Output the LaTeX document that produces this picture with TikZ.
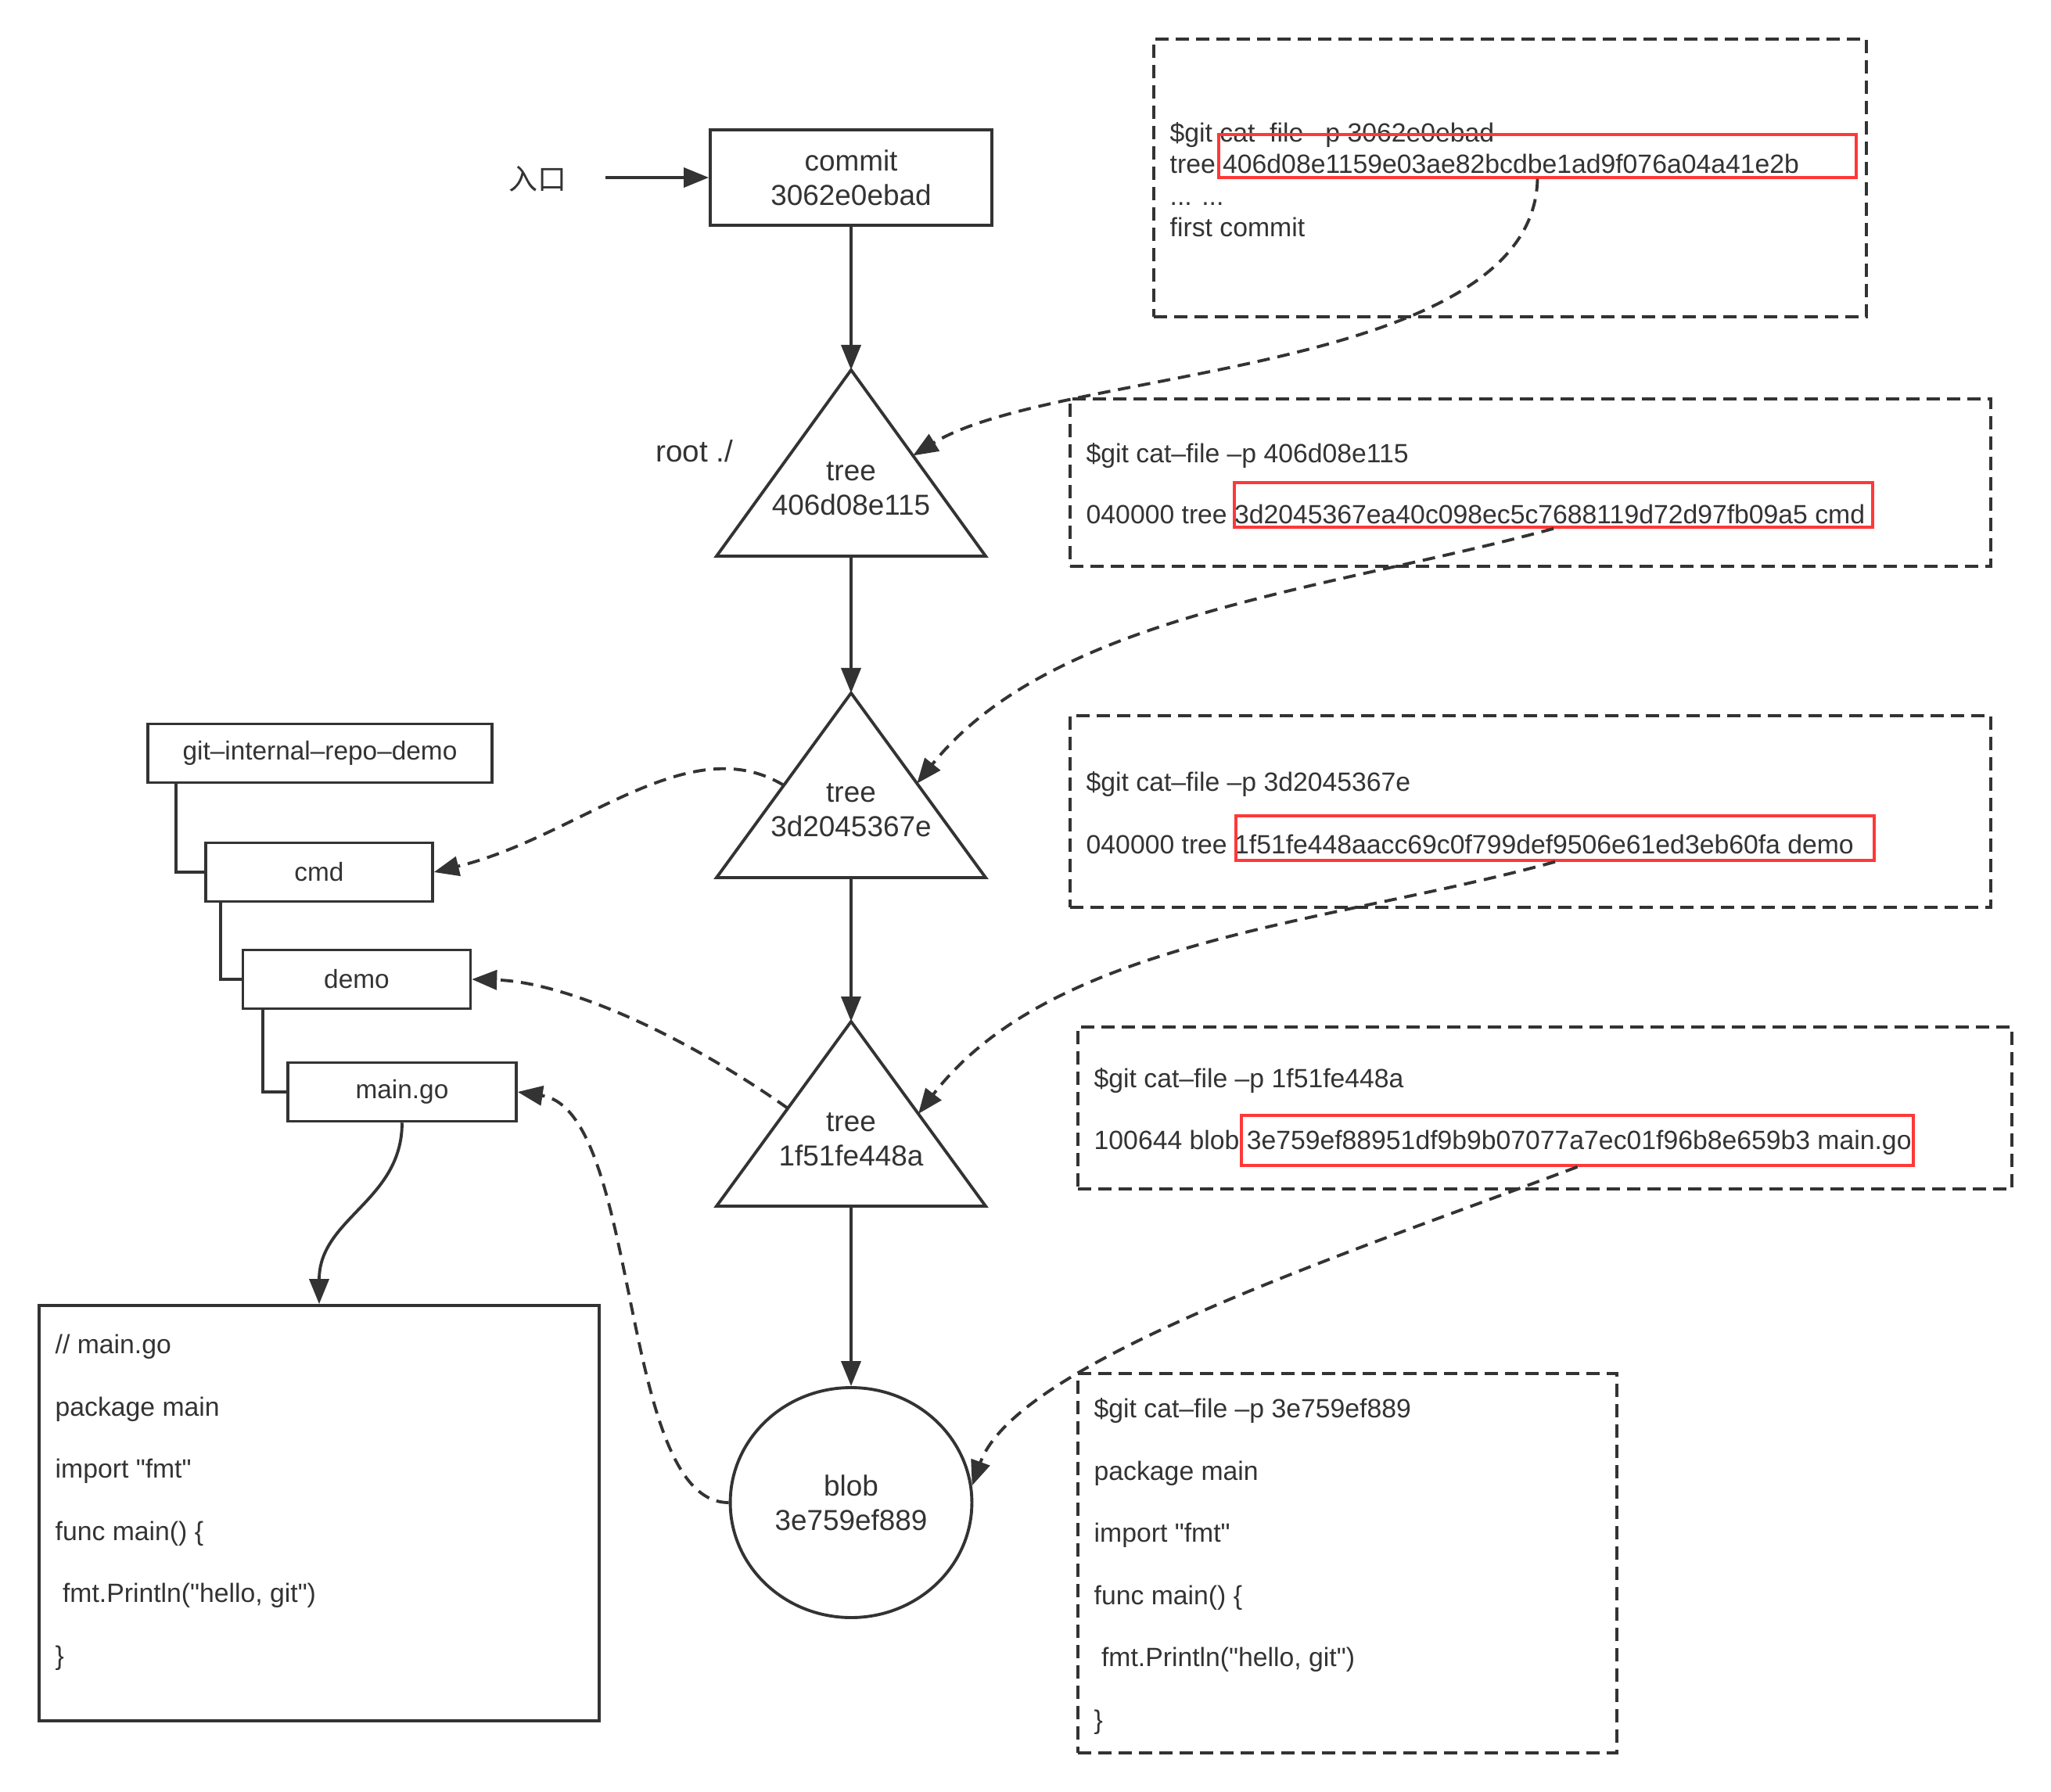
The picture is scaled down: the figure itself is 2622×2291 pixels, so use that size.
\documentclass[tikz,border=0pt]{standalone}
\usepackage{fontspec}
\setmainfont{Liberation Sans}[Ligatures=TeXOff]
\newfontfamily\cjk{Noto Sans CJK SC}
\usetikzlibrary{arrows.meta,calc,shapes.geometric}

\definecolor{ink}{HTML}{333333}
\definecolor{hlred}{HTML}{FF3838}

\begin{document}
\begin{tikzpicture}[x=0.1mm, y=-0.1mm,
    objline/.style={draw=ink, line width=1.1pt},
    objtext/.style={text=ink, align=center, font=\fontsize{10.5}{12.6}\selectfont},
    obj/.style={objline, objtext},
    link/.style={ink, line width=1.1pt, -{Triangle[length=3.2mm, width=2.5mm]}},
    ref/.style={link, dash pattern=on 1.6mm off 1mm},
    dirbox/.style={draw=ink, line width=1pt, text=ink, minimum height=7.5mm,
      font=\fontsize{9.5}{11}\selectfont},
    catbox/.style={draw=ink, line width=1.1pt, dash pattern=on 1.7mm off 0.9mm},
    hl/.style={draw=hlred, line width=1pt},
    txt/.style={anchor=west, inner sep=0pt, text=ink, text height=0.75em,
      text depth=0.2em, font=\fontsize{9.6}{11}\selectfont}]

  \path[fill=white, use as bounding box] (0,0) rectangle (2622,2291);

  % entry and commit
  \node[text=ink, font=\cjk\fontsize{10.5}{12}\selectfont] (entry) at (687,229) {入口};
  \coordinate (entry-tail) at (774,227);
  \node[obj, minimum width=36mm, minimum height=12.2mm] (commit) at (1088,227) {commit\\3062e0ebad};
  \draw[link] (entry-tail) -- (commit);

  % tree objects
  \draw[objline] (1088,473) coordinate (t1top) -- (1260,711) coordinate (t1r)
    -- (916,711) coordinate (t1l) -- cycle;
  \coordinate (t1bot) at (1088,711);
  \node[objtext] (t1) at (1088,625) {tree\\406d08e115};
  \node[text=ink, font=\fontsize{11}{13}\selectfont] (root) at (888,577) {root ./};

  \draw[objline] (1088,886) coordinate (t2top) -- (1260,1122) coordinate (t2r)
    -- (916,1122) coordinate (t2l) -- cycle;
  \coordinate (t2bot) at (1088,1122);
  \node[objtext] (t2) at (1088,1036) {tree\\3d2045367e};

  \draw[objline] (1088,1306) coordinate (t3top) -- (1260,1542) coordinate (t3r)
    -- (916,1542) coordinate (t3l) -- cycle;
  \coordinate (t3bot) at (1088,1542);
  \node[objtext] (t3) at (1088,1457) {tree\\1f51fe448a};

  % blob object
  \node[obj, ellipse, minimum width=30.5mm, minimum height=29.4mm] (blob) at (1088,1921) {blob\\3e759ef889};

  \draw[link] (commit) -- (t1top);
  \draw[link] (t1bot) -- (t2top);
  \draw[link] (t2bot) -- (t3top);
  \draw[link] (t3bot) -- (blob);

  % working directory
  \node[dirbox, minimum width=44mm] (repo) at (409,963) {git–internal–repo–demo};
  \node[dirbox, minimum width=29mm] (cmd) at (408,1115) {cmd};
  \node[dirbox, minimum width=29.1mm] (demo) at (456,1252) {demo};
  \node[dirbox, minimum width=29.2mm] (mainfile) at (514,1396) {main.go};
  \draw[ink, line width=1pt] ([xshift=3.8mm]repo.south west) |- (cmd.west);
  \draw[ink, line width=1pt] ([xshift=2.1mm]cmd.south west) |- (demo.west);
  \draw[ink, line width=1pt] ([xshift=2.7mm]demo.south west) |- (mainfile.west);

  % source of main.go
  \node[draw=ink, line width=1.1pt, minimum width=71.6mm, minimum height=53.1mm] (code) at (408,1934.5) {};
  \foreach \src [count=\i from 0] in {{// main.go}, {package main}, {import "fmt"},
      {func main() \{}, {\ fmt.Println("hello, git")}, {\}}}
    \node[txt] (code-\i) at (70,1721+79.5*\i) {\src};
  \draw[link] (mainfile.south) .. controls +(0,100) and +(0,-110) .. (code.north);

  % cat-file output
  \node[catbox, minimum width=91.1mm, minimum height=35.5mm] (cat1) at (1930.5,227.5) {};
  \node[txt] (c1-0) at (1495,172) {\$git cat–file –p 3062e0ebad};
  \node[txt] (c1-1) at (1495,212) {tree 406d08e1159e03ae82bcdbe1ad9f076a04a41e2b};
  \node[txt] (c1-2) at (1495,253) {... ...};
  \node[txt] (c1-3) at (1495,293) {first commit};

  \node[catbox, minimum width=117.7mm, minimum height=21.4mm] (cat2) at (1956.5,617) {};
  \node[txt] (c2-0) at (1388,582) {\$git cat–file –p 406d08e115};
  \node[txt] (c2-1) at (1388,660) {040000 tree 3d2045367ea40c098ec5c7688119d72d97fb09a5 cmd};

  \node[catbox, minimum width=117.7mm, minimum height=24.5mm] (cat3) at (1956.5,1037.5) {};
  \node[txt] (c3-0) at (1388,1002) {\$git cat–file –p 3d2045367e};
  \node[txt] (c3-1) at (1388,1082) {040000 tree 1f51fe448aacc69c0f799def9506e61ed3eb60fa demo};

  \node[catbox, minimum width=119.4mm, minimum height=20.7mm] (cat4) at (1975,1416.5) {};
  \node[txt] (c4-0) at (1398,1381) {\$git cat–file –p 1f51fe448a};
  \node[txt] (c4-1) at (1398,1460) {100644 blob 3e759ef88951df9b9b07077a7ec01f96b8e659b3 main.go};

  \node[catbox, minimum width=68.9mm, minimum height=48.5mm] (cat5) at (1722.5,1998.5) {};
  \foreach \src [count=\i from 0] in {{\$git cat–file –p 3e759ef889}, {package main},
      {import "fmt"}, {func main() \{}, {\ fmt.Println("hello, git")}, {\}}}
    \node[txt] (c5-\i) at (1398,1803+79.5*\i) {\src};

  % hashes picked out
  \node[hl, minimum width=81.5mm, minimum height=5.5mm] (r1) at (1965.5,199.5) {};
  \node[hl, minimum width=81.6mm, minimum height=5.7mm] (r2) at (1986,645.5) {};
  \node[hl, minimum width=81.6mm, minimum height=5.7mm] (r3) at (1988,1071.5) {};
  \node[hl, minimum width=85.9mm, minimum height=6.4mm] (r4) at (2016.5,1458) {};

  % hash lookups
  \draw[ref] (r1.south) .. controls (1960,480) and (1350,470) .. ($(t1top)!0.46!(t1r)$);
  \draw[ref] (r2.south) .. controls (1700,754) and (1346,785) .. ($(t2top)!0.49!(t2r)$);
  \draw[ref] (r3.south) .. controls (1705,1180) and (1346,1200) .. ($(t3top)!0.5!(t3r)$);
  \draw[ref] (r4.south) .. controls (1730,1600) and (1300,1740) .. (blob.8);

  % objects back to paths
  \draw[ref] ($(t2top)!0.5!(t2l)$) .. controls (880,930) and (740,1070) .. (cmd.east);
  \draw[ref] ($(t3top)!0.47!(t3l)$) .. controls (870,1320) and (720,1255) .. (demo.east);
  \draw[ref] (blob.west) .. controls (790,1921) and (820,1420) .. (mainfile.east);
\end{tikzpicture}
\end{document}
